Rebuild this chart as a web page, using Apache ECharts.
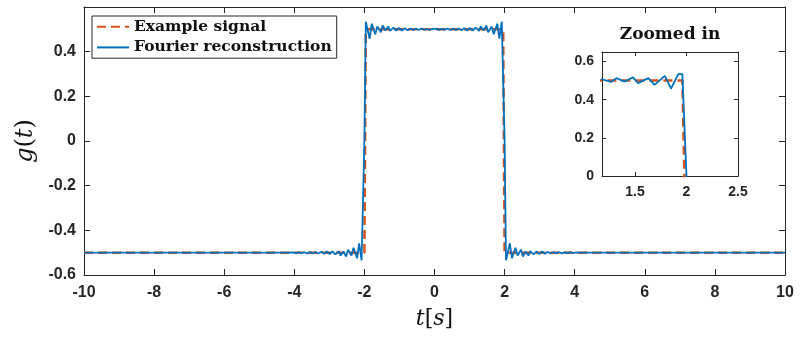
<!DOCTYPE html>
<html>
<head>
<meta charset="utf-8">
<script src="https://cdn.jsdelivr.net/npm/echarts@6/dist/echarts.min.js"></script>
<style>
  html, body { margin: 0; background: #fff; }
  #chart { width: 800px; height: 338px; }
</style>
</head>
<body>
<div id="chart"></div>
<script>
// ideal square pulse
const signalT = [-10, -2, -1.96, 1.96, 2, 10];
const signalG = [-0.5, -0.5, 0.5, 0.5, -0.5, -0.5];

// Fourier reconstruction (Gibbs ripple near the edges)
const fourierT = [
  -10, -4.2, -4.03, -3.95, -3.87, -3.79, -3.71, -3.63, -3.55, -3.47, -3.39, -3.31, -3.23, -3.15,
  -3.07, -2.99, -2.91, -2.83, -2.73, -2.68, -2.6, -2.52, -2.47, -2.37, -2.31, -2.21, -2.15, -2.08,
  -2.04, -2, -1.96, -1.92, -1.85, -1.79, -1.69, -1.63, -1.53, -1.48, -1.4, -1.32, -1.27, -1.17,
  -1.09, -1.01, -0.93, -0.85, -0.77, -0.69, -0.61, -0.53, -0.45, -0.37, -0.29, -0.21, -0.13, -0.05,
  0.05, 0.13, 0.21, 0.29, 0.37, 0.45, 0.53, 0.61, 0.69, 0.77, 0.85, 0.93, 1.01, 1.09,
  1.17, 1.27, 1.32, 1.4, 1.48, 1.53, 1.63, 1.69, 1.79, 1.85, 1.92, 1.96, 2, 2.04,
  2.08, 2.15, 2.21, 2.31, 2.37, 2.47, 2.52, 2.6, 2.68, 2.73, 2.83, 2.91, 2.99, 3.07,
  3.15, 3.23, 3.31, 3.39, 3.47, 3.55, 3.63, 3.71, 3.79, 3.87, 3.95, 4.03, 4.2, 10
];
const fourierG = [
  -0.5, -0.5, -0.499, -0.502, -0.498, -0.502, -0.498, -0.503, -0.497, -0.503, -0.497, -0.504, -0.496, -0.505,
  -0.495, -0.506, -0.494, -0.508, -0.493, -0.513, -0.495, -0.517, -0.487, -0.513, -0.478, -0.525, -0.458, -0.534,
  -0.534, 0, 0.534, 0.534, 0.458, 0.525, 0.478, 0.513, 0.487, 0.517, 0.495, 0.513, 0.493, 0.508,
  0.494, 0.506, 0.495, 0.505, 0.496, 0.504, 0.497, 0.503, 0.497, 0.503, 0.498, 0.502, 0.498, 0.502,
  0.502, 0.498, 0.502, 0.498, 0.503, 0.497, 0.503, 0.497, 0.504, 0.496, 0.505, 0.495, 0.506, 0.494,
  0.508, 0.493, 0.513, 0.495, 0.517, 0.487, 0.513, 0.478, 0.525, 0.458, 0.534, 0.534, 0, -0.534,
  -0.534, -0.458, -0.525, -0.478, -0.513, -0.487, -0.517, -0.495, -0.513, -0.493, -0.508, -0.494, -0.506, -0.495,
  -0.505, -0.496, -0.504, -0.497, -0.503, -0.497, -0.503, -0.498, -0.502, -0.498, -0.502, -0.499, -0.5, -0.5
];

const insetXTicks = [1.5, 2, 2.5];

const zip = (xs, ys) => xs.map((x, i) => [x, ys[i]]);
const signalData = zip(signalT, signalG);
const fourierData = zip(fourierT, fourierG);

const axisColor = '#262626';
const labelFont = { color: axisColor, fontWeight: 'bold', fontFamily: 'Liberation Sans, Arial, sans-serif' };
const serif = '"DejaVu Serif", serif';

const lineAxis = { show: true, onZero: false, lineStyle: { color: axisColor, width: 1 } };
const tickIn = (len) => ({ show: true, inside: true, length: len, lineStyle: { color: axisColor } });

const chart = echarts.init(document.getElementById('chart'));

const option = {
  animation: false,
  backgroundColor: '#fff',
  grid: [
    { left: 84, right: 15, top: 7, bottom: 63 },
    { left: 602, top: 52, width: 136, height: 124, show: true, backgroundColor: '#fff', borderWidth: 0 },
  ],
  legend: {
    data: ['Example signal', 'Fourier reconstruction'],
    orient: 'vertical',
    left: 92,
    top: 16,
    padding: [2, 5, 2, 4],
    itemGap: 3,
    itemWidth: 32,
    itemHeight: 22,
    backgroundColor: '#fff',
    borderColor: axisColor,
    borderWidth: 1,
    itemStyle: { opacity: 0 },
    textStyle: { color: '#111', fontWeight: 'bold', fontSize: 15.5, fontFamily: serif },
  },
  graphic: [
    {
      type: 'text',
      x: 670,
      y: 35,
      style: {
        text: 'Zoomed in',
        align: 'center',
        verticalAlign: 'middle',
        fill: '#111',
        font: 'bold 17px "DejaVu Serif", serif',
      },
    },
  ],
  xAxis: [
    {
      type: 'value', gridIndex: 0, min: -10, max: 10, interval: 2,
      axisLine: lineAxis, axisTick: tickIn(6), splitLine: { show: false },
      axisLabel: { ...labelFont, fontSize: 16, margin: 10 },
      name: '{i|t}[{i|s}]',
      nameLocation: 'middle',
      nameGap: 33,
      nameTextStyle: {
        fontSize: 22, fontFamily: serif, color: '#111',
        rich: { i: { fontSize: 22, fontStyle: 'italic', fontFamily: serif, color: '#111' } },
      },
    },
    {
      type: 'value', gridIndex: 0, position: 'top', min: -10, max: 10, interval: 2,
      axisLine: lineAxis, axisTick: tickIn(6), axisLabel: { show: false }, splitLine: { show: false },
    },
    {
      type: 'value', gridIndex: 1, min: 1.18, max: 2.5,
      axisLine: lineAxis,
      axisTick: { ...tickIn(4), customValues: insetXTicks },
      axisLabel: { ...labelFont, fontSize: 14, margin: 9, customValues: insetXTicks },
      splitLine: { show: false },
    },
    {
      type: 'value', gridIndex: 1, position: 'top', min: 1.18, max: 2.5,
      axisLine: lineAxis,
      axisTick: { ...tickIn(4), customValues: insetXTicks },
      axisLabel: { show: false },
      splitLine: { show: false },
    },
  ],
  yAxis: [
    {
      type: 'value', gridIndex: 0, min: -0.6, max: 0.6, interval: 0.2,
      axisLine: lineAxis, axisTick: tickIn(6), splitLine: { show: false },
      axisLabel: { ...labelFont, fontSize: 16, margin: 8, showMaxLabel: false },
      name: '{i|g}({i|t})',
      nameLocation: 'middle',
      nameRotate: 90,
      nameGap: 44,
      nameTextStyle: {
        fontSize: 24, fontFamily: serif, color: '#111',
        rich: { i: { fontSize: 24, fontStyle: 'italic', fontFamily: serif, color: '#111' } },
      },
    },
    {
      type: 'value', gridIndex: 0, position: 'right', min: -0.6, max: 0.6, interval: 0.2,
      axisLine: lineAxis, axisTick: tickIn(6), axisLabel: { show: false }, splitLine: { show: false },
    },
    {
      type: 'value', gridIndex: 1, min: 0, max: 0.65, interval: 0.2,
      axisLine: lineAxis, axisTick: tickIn(4), splitLine: { show: false },
      axisLabel: { ...labelFont, fontSize: 14, margin: 8, showMaxLabel: false },
    },
    {
      type: 'value', gridIndex: 1, position: 'right', min: 0, max: 0.65, interval: 0.2,
      axisLine: lineAxis, axisTick: tickIn(4), axisLabel: { show: false }, splitLine: { show: false },
    },
  ],
  series: [
    {
      name: 'Example signal', type: 'line', xAxisIndex: 0, yAxisIndex: 0,
      data: signalData, symbol: 'none',
      lineStyle: { color: '#D95319', width: 2.5, type: [9, 5] },
      itemStyle: { color: '#D95319' },
    },
    {
      name: 'Fourier reconstruction', type: 'line', xAxisIndex: 0, yAxisIndex: 0,
      data: fourierData, symbol: 'none',
      lineStyle: { color: '#0072BD', width: 1.8 },
      itemStyle: { color: '#0072BD' },
    },
    {
      name: 'Example signal', type: 'line', xAxisIndex: 2, yAxisIndex: 2,
      data: signalData, symbol: 'none', clip: true,
      lineStyle: { color: '#D95319', width: 2.5, type: [9, 5] },
      itemStyle: { color: '#D95319' },
    },
    {
      name: 'Fourier reconstruction', type: 'line', xAxisIndex: 2, yAxisIndex: 2,
      data: fourierData, symbol: 'none', clip: true,
      lineStyle: { color: '#0072BD', width: 1.8 },
      itemStyle: { color: '#0072BD' },
    },
  ],
};

chart.setOption(option);
</script>
</body>
</html>
